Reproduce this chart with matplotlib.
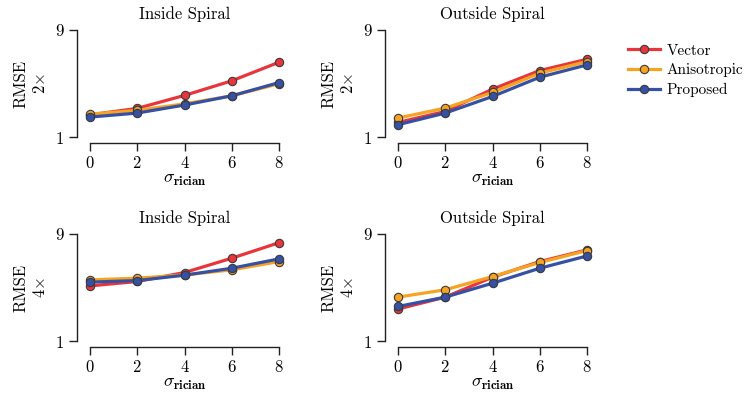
import matplotlib
matplotlib.use("Agg")
import matplotlib.pyplot as plt

plt.rcParams["font.family"] = ["cmr10", "DejaVu Serif"]
plt.rcParams["mathtext.fontset"] = "cm"
plt.rcParams["axes.formatter.use_mathtext"] = True

sigma = [0, 2, 4, 6, 8]
methods = ["Vector", "Anisotropic", "Proposed"]
colors = ["#E8353B", "#F7A322", "#3651A3"]

# RMSE, one list per method
inside_2x = {
    "Vector": [2.66, 3.14, 4.11, 5.20, 6.59],
    "Anisotropic": [2.71, 2.99, 3.48, 4.08, 4.98],
    "Proposed": [2.49, 2.79, 3.39, 4.08, 5.07],
}
outside_2x = {
    "Vector": [2.09, 2.91, 4.58, 5.97, 6.81],
    "Anisotropic": [2.42, 3.16, 4.33, 5.77, 6.64],
    "Proposed": [1.92, 2.79, 4.03, 5.47, 6.39],
}
inside_4x = {
    "Vector": [5.12, 5.45, 6.12, 7.19, 8.35],
    "Anisotropic": [5.57, 5.70, 5.94, 6.32, 6.94],
    "Proposed": [5.40, 5.52, 5.92, 6.44, 7.14],
}
outside_4x = {
    "Vector": [3.39, 4.28, 5.77, 6.94, 7.81],
    "Anisotropic": [4.28, 4.83, 5.82, 6.87, 7.76],
    "Proposed": [3.58, 4.28, 5.32, 6.44, 7.36],
}

panels = [
    (inside_2x, "Inside Spiral", "2", [90 / 750, 0.6575, 189 / 750, 0.2675]),
    (outside_2x, "Outside Spiral", "2", [398 / 750, 0.6575, 189 / 750, 0.2675]),
    (inside_4x, "Inside Spiral", "4", [90 / 750, 0.1475, 189 / 750, 0.2675]),
    (outside_4x, "Outside Spiral", "4", [398 / 750, 0.1475, 189 / 750, 0.2675]),
]

fig = plt.figure(figsize=(7.5, 4), dpi=100)
handles = []
for data, title, scale, pos in panels:
    ax = fig.add_axes(pos)
    for name, col in zip(methods, colors):
        (ln,) = ax.plot(sigma, data[name], color=col, lw=2.3, marker="o", ms=6,
                        mec="#3a3a3a", mew=0.8, clip_on=False, label=name)
        if len(handles) < 3:
            handles.append(ln)
    ax.set_xlim(0, 8)
    ax.set_ylim(1, 9)
    ax.set_xticks(sigma)
    ax.set_yticks([1, 9])
    ax.spines["top"].set_visible(False)
    ax.spines["right"].set_visible(False)
    ax.spines["left"].set_position(("outward", 9.4))
    ax.spines["bottom"].set_position(("outward", 4.3))
    for s in ("left", "bottom"):
        ax.spines[s].set_color("#222222")
        ax.spines[s].set_linewidth(1.0)
    ax.tick_params(length=5.5, width=1.0, labelsize=12, color="#222222")
    ax.set_title(title, fontsize=12, pad=8)
    ax.set_xlabel(r"$\sigma_{\mathbf{rician}}$", fontsize=13, labelpad=1)
    ax.set_ylabel("RMSE\n" + scale + r"$\times$", fontsize=12, labelpad=5,
                  linespacing=1.25)

fig.legend(handles=handles, labels=methods, loc="upper left",
           bbox_to_anchor=(0.829, 0.905), frameon=False, fontsize=11,
           handlelength=2.1, handletextpad=0.45, labelspacing=0.37,
           borderaxespad=0)

fig.savefig("out.png", dpi=100)
